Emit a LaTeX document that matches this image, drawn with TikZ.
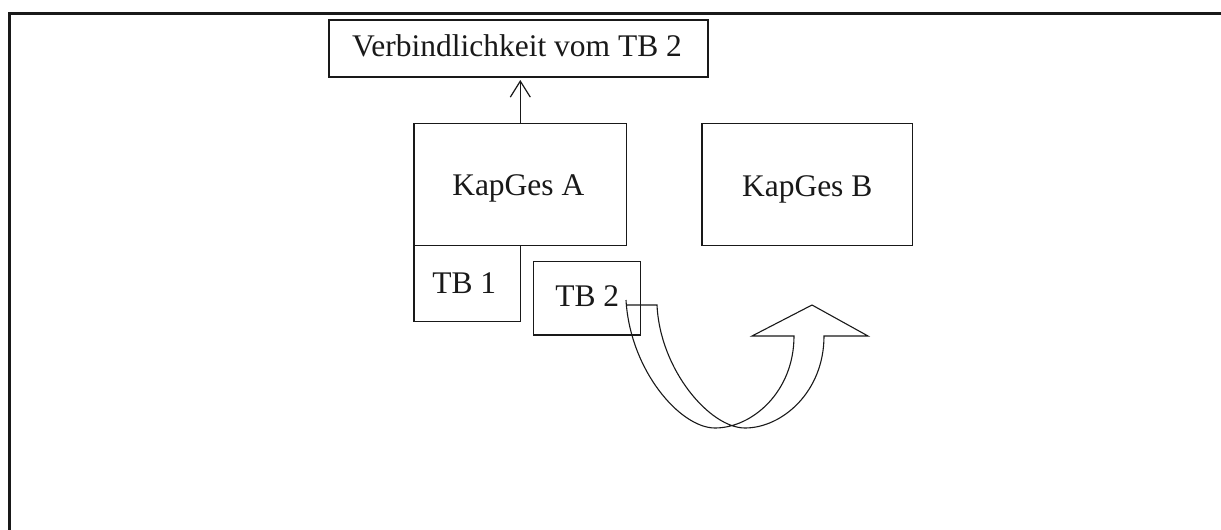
\documentclass[tikz,border=0pt]{standalone}
\usepackage{fontspec}
\setmainfont{Liberation Serif}
\usetikzlibrary{arrows.meta,calc}
\begin{document}
\begin{tikzpicture}[x=1pt,y=-1pt,
  box/.style={draw=black!90, line width=1.3pt, rectangle, inner sep=0pt, outer sep=0pt},
  lbl/.style={font=\fontsize{31.5}{36}\selectfont, anchor=base, inner sep=0pt, text=black!90},
  conn/.style={draw=black!90, line width=1.2pt, -{Straight Barb[length=16pt,width=20pt,line width=1.2pt]}},
  bigarrow/.style={draw=black!90, line width=1.1pt, line join=miter}]
\useasboundingbox (0,0) rectangle (1221,530);
% frame
\draw[line width=3pt, black!90] (9.5,530) -- (9.5,13.5) -- (1221,13.5);
% boxes
\node[box, minimum width=379pt, minimum height=57pt] (verb) at (518.5,48.5) {};
\node[box, minimum width=212.7pt, minimum height=122pt] (kapA) at (520.3,184.3) {};
\node[box, minimum width=106.3pt, minimum height=76.4pt] (tb1) at (467.2,283.5) {};
\node[box, minimum width=107pt, minimum height=73.7pt] (tb2) at (587.2,298.2) {};
\node[box, minimum width=210.3pt, minimum height=122pt] (kapB) at (807.2,184.3) {};
% labels
\node[lbl] (tverb) at ([xshift=-1.5pt,yshift=-8.2pt]verb.center) {Verbindlichkeit vom TB 2};
\node[lbl] (tkapA) at ([xshift=-2pt,yshift=-10.7pt]kapA.center) {KapGes A};
\node[lbl] (tkapB) at ([yshift=-12pt]kapB.center) {KapGes B};
\node[lbl] (ttb1) at ([xshift=-3pt,yshift=-9.8pt]tb1.center) {TB 1};
\node[lbl] (ttb2) at ([yshift=-8.5pt]tb2.center) {TB 2};
% connector
\coordinate (tip) at ($(kapA.north |- verb.south)+(0,3)$);
\draw[conn] (kapA.north) -- (tip);
% curved block arrow
\draw[bigarrow] (626,300) .. controls (630,370) and (680,428) .. (715,428)
  .. controls (752,428) and (794,392) .. (794,336)
  -- (752,336) -- (812,305) -- (868,336) -- (824,336)
  .. controls (824,392) and (782,428) .. (745,428)
  .. controls (710,428) and (660,370) .. (657,305) -- (626,305);
\end{tikzpicture}
\end{document}
